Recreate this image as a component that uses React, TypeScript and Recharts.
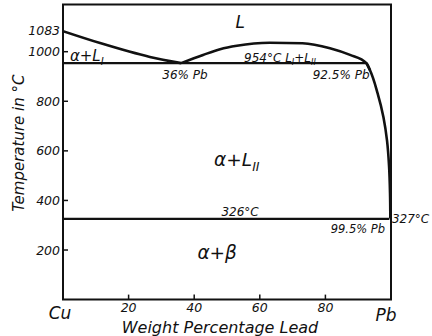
import { LineChart, Line, XAxis, YAxis, ReferenceArea, ReferenceDot } from 'recharts'

// liquidus of Cu side, 1083 down to the monotectic at 36% Pb
const leftLiquidus = [
  { x: 0, t: 1083 },
  { x: 11.3, t: 1035 },
  { x: 26.5, t: 979 },
  { x: 36, t: 954 },
]

// miscibility gap L1+L2
const gapDome = [
  { x: 36, t: 954 },
  { x: 42.7, t: 987 },
  { x: 47.9, t: 1010 },
  { x: 53, t: 1024 },
  { x: 63, t: 1036 },
  { x: 73, t: 1034 },
  { x: 81.4, t: 1014 },
  { x: 87.5, t: 987 },
  { x: 92.5, t: 954 },
  { x: 93.6, t: 925 },
]

// Pb-rich liquidus from the monotectic down to 327
const rightLiquidus = [
  { x: 92.5, t: 954 },
  { x: 93.6, t: 925 },
  { x: 95.9, t: 833 },
  { x: 97.7, t: 736 },
  { x: 98.8, t: 640 },
  { x: 99.4, t: 540 },
  { x: 99.7, t: 430 },
  { x: 99.8, t: 327 },
]

const monotectic = [
  { x: 0, t: 954 },
  { x: 92.5, t: 954 },
]

const eutectic = [
  { x: 0, t: 326 },
  { x: 99.5, t: 326 },
]

const xTicks = [0, 20, 40, 60, 80, 100]
const yTicks = [200, 400, 600, 800, 1000]

type Part = { s: string; sub?: boolean }

const notes: { x: number; t: number; parts: Part[]; size: number; anchor: string }[] = [
  { x: 54, t: 1096, parts: [{ s: 'L' }], size: 17, anchor: 'middle' },
  { x: 2.1, t: 962, parts: [{ s: 'α+L' }, { s: 'I', sub: true }], size: 15, anchor: 'start' },
  { x: 37.2, t: 890, parts: [{ s: '36% Pb' }], size: 12, anchor: 'middle' },
  {
    x: 55.2,
    t: 960,
    parts: [{ s: '954°C  L' }, { s: 'I', sub: true }, { s: '+L' }, { s: 'II', sub: true }],
    size: 12,
    anchor: 'start',
  },
  { x: 84.8, t: 890, parts: [{ s: '92.5% Pb' }], size: 12, anchor: 'middle' },
  { x: 53, t: 539, parts: [{ s: 'α+L' }, { s: 'II', sub: true }], size: 18.5, anchor: 'middle' },
  { x: 54, t: 337, parts: [{ s: '326°C' }], size: 12, anchor: 'middle' },
  { x: 98.2, t: 269, parts: [{ s: '99.5% Pb' }], size: 11.5, anchor: 'end' },
  { x: 100.3, t: 309, parts: [{ s: '327°C' }], size: 12, anchor: 'start' },
  { x: 47, t: 163, parts: [{ s: 'α+β' }], size: 18.5, anchor: 'middle' },
  { x: -0.9, t: 1066, parts: [{ s: '1083' }], size: 12.5, anchor: 'end' },
]

const ink = '#111'
const font = '"DejaVu Sans", sans-serif'

function noteContent(parts: Part[], size: number, anchor: string) {
  return (props: any) => {
    const vb = props.viewBox || props
    let down = false
    return (
      <text
        x={vb.x}
        y={vb.y}
        textAnchor={anchor}
        fontSize={size}
        fontStyle='italic'
        fontFamily={font}
        fill={ink}
      >
        {parts.map((p, i) => {
          let dy = 0
          if (p.sub && !down) {
            dy = size * 0.25
            down = true
          } else if (!p.sub && down) {
            dy = -size * 0.25
            down = false
          }
          return (
            <tspan key={i} dy={dy} fontSize={p.sub ? size * 0.68 : size}>
              {p.s}
            </tspan>
          )
        })}
      </text>
    )
  }
}

// x tick: inward tick mark plus label; ends read Cu and Pb
function XTick(props: any) {
  const { x, y, payload } = props
  const v = payload.value
  if (v === 0 || v === 100) {
    return (
      <text
        x={x + (v === 0 ? -3 : -5)}
        y={y + (v === 0 ? 19 : 21)}
        textAnchor='middle'
        fontSize={17}
        fontStyle='italic'
        fontFamily={font}
        fill={ink}
      >
        {v === 0 ? 'Cu' : 'Pb'}
      </text>
    )
  }
  return (
    <g>
      <line x1={x} x2={x} y1={y} y2={y - 5} stroke={ink} strokeWidth={1.5} />
      <text
        x={x}
        y={y + 12.5}
        textAnchor='middle'
        fontSize={12.5}
        fontStyle='italic'
        fontFamily={font}
        fill={ink}
      >
        {v}
      </text>
    </g>
  )
}

function YTick(props: any) {
  const { x, y, payload } = props
  return (
    <g>
      <line x1={x} x2={x + 5} y1={y} y2={y} stroke={ink} strokeWidth={1.5} />
      <text
        x={x - 3}
        y={y}
        dy='0.36em'
        textAnchor='end'
        fontSize={12.5}
        fontStyle='italic'
        fontFamily={font}
        fill={ink}
      >
        {payload.value}
      </text>
    </g>
  )
}

export default function App() {
  return (
    <div style={{ position: 'absolute', left: 0, top: 0, background: '#fff' }}>
      <LineChart
        width={432}
        height={336}
        margin={{ top: 4.6, right: 41, left: 23, bottom: 6.4 }}
        style={{ fontFamily: font }}
      >
        <XAxis
          type='number'
          dataKey='x'
          domain={[0, 100]}
          ticks={xTicks}
          height={30}
          axisLine={false}
          tickLine={false}
          tickSize={0}
          tickMargin={0}
          tick={<XTick />}
          allowDataOverflow
          interval={0}
          label={{
            content: (p: any) => {
              const vb = p.viewBox
              return (
                <text
                  x={vb.x + vb.width / 2 - 7}
                  y={vb.y + 33.5}
                  textAnchor='middle'
                  fontSize={16}
                  fontStyle='italic'
                  fontFamily={font}
                  fill={ink}
                >
                  Weight Percentage Lead
                </text>
              )
            },
          }}
        />
        <YAxis
          type='number'
          dataKey='t'
          domain={[0, 1190]}
          ticks={yTicks}
          width={40}
          axisLine={false}
          tickLine={false}
          tickSize={0}
          tickMargin={0}
          tick={<YTick />}
          allowDataOverflow
          interval={0}
          label={{
            content: (p: any) => {
              const vb = p.viewBox
              const cx = vb.x + vb.width - 44
              const cy = vb.y + vb.height / 2 - 9
              return (
                <text
                  x={cx}
                  y={cy}
                  transform={`rotate(-90, ${cx}, ${cy})`}
                  textAnchor='middle'
                  dominantBaseline='central'
                  fontSize={15}
                  fontStyle='italic'
                  fontFamily={font}
                  fill={ink}
                >
                  Temperature in °C
                </text>
              )
            },
          }}
        />
        <ReferenceArea
          x1={0}
          x2={100}
          y1={0}
          y2={1190}
          fill='none'
          fillOpacity={0}
          stroke={ink}
          strokeWidth={2}
          ifOverflow='visible'
        />
        <Line data={monotectic} dataKey='t' type='linear' stroke={ink} strokeWidth={2.2} dot={false} isAnimationActive={false} />
        <Line data={eutectic} dataKey='t' type='linear' stroke={ink} strokeWidth={2.2} dot={false} isAnimationActive={false} />
        <Line data={leftLiquidus} dataKey='t' type='monotone' stroke={ink} strokeWidth={2.6} dot={false} isAnimationActive={false} />
        <Line data={gapDome} dataKey='t' type='monotone' stroke={ink} strokeWidth={2.6} dot={false} isAnimationActive={false} />
        <Line data={rightLiquidus} dataKey='t' type='monotoneY' stroke={ink} strokeWidth={2.6} dot={false} isAnimationActive={false} />
        {notes.map((n, i) => (
          <ReferenceDot
            key={i}
            x={n.x}
            y={n.t}
            r={0}
            fill='none'
            stroke='none'
            ifOverflow='visible'
            label={{ content: noteContent(n.parts, n.size, n.anchor) }}
          />
        ))}
      </LineChart>
    </div>
  )
}
